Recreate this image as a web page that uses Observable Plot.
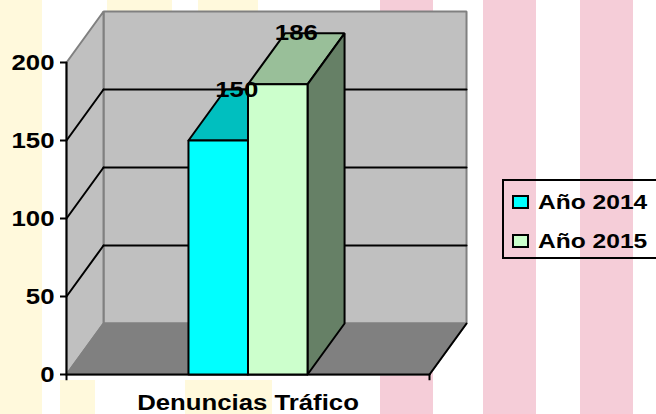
<!DOCTYPE html>
<html>
<head>
<meta charset="utf-8">
<script src="https://cdn.jsdelivr.net/npm/d3@7"></script>
<script src="https://cdn.jsdelivr.net/npm/@observablehq/plot@0.6"></script>
<style>
  html, body { margin: 0; padding: 0; overflow: hidden; background: #fff; }
  #wrap { position: relative; width: 656px; height: 414px; overflow: hidden; font-family: "Liberation Sans", Arial, sans-serif; }
  .bg { position: absolute; }
  .pink { background: #f5cdd8; top: 0; height: 414px; }
  .yel { background: #fff9dc; }
  #chart { position: absolute; left: 0; top: 0; }
  #legend { position: absolute; left: 502px; top: 179px; width: 170px; height: 76px; border: 2px solid #000; box-sizing: content-box; }
  .item { position: absolute; left: 8px; display: flex; align-items: center; font-weight: bold; font-size: 21px; color: #000; white-space: nowrap; }
  .sw { width: 13px; height: 10px; border: 2px solid #000; margin-right: 9px; flex: none; }
  .lbl { display: inline-block; transform: scaleX(1.17); transform-origin: left center; }
</style>
</head>
<body>
<div id="wrap">
  <div class="bg yel" style="left:0;top:0;width:42px;height:414px"></div>
  <div class="bg yel" style="left:107px;top:0;width:65px;height:14px"></div>
  <div class="bg yel" style="left:198px;top:0;width:60px;height:14px"></div>
  <div class="bg yel" style="left:60px;top:380px;width:35px;height:34px"></div>
  <div class="bg yel" style="left:185px;top:380px;width:87px;height:34px"></div>
  <div class="bg pink" style="left:380px;width:53px"></div>
  <div class="bg pink" style="left:483px;width:53px"></div>
  <div class="bg pink" style="left:580px;width:53px"></div>
  <div id="chart"></div>
  <div id="legend"></div>
</div>
<script>
// ---- data ----
const category = "Denuncias Tráfico";
const series = ["Año 2014", "Año 2015"];
const values = [150, 186];
const frontColors = ["#00ffff", "#ccffcc"];
const topColors = ["#00bfbf", "#99bf99"];
const sideColors = ["#008080", "#668066"];
const yTicks = [0, 50, 100, 150, 200];

// ---- layout constants (3D depth in scale units) ----
const yMax = 200;
const depthX = 0.102;   // horizontal depth offset (fraction of floor width)
const depthY = 32.7;    // vertical depth offset (value units)
const barWidth = 0.164;
const stretch = 1.17;   // horizontal text stretch of the original

const marks = [];
function poly(points, fill, stroke, sw = 2) {
  const pts = points.map(([x, y]) => ({x, y}));
  pts.push({...pts[0]});
  return Plot.line(pts, {x: "x", y: "y", fill, stroke, strokeWidth: sw, strokeLinejoin: "miter", curve: "linear"});
}
function seg(a, b, stroke, sw = 2) {
  return Plot.line([{x: a[0], y: a[1]}, {x: b[0], y: b[1]}], {x: "x", y: "y", stroke, strokeWidth: sw});
}

// walls
marks.push(poly([[depthX, depthY], [1 + depthX, depthY], [1 + depthX, yMax + depthY], [depthX, yMax + depthY]], "#c0c0c0", "#808080"));
marks.push(poly([[0, 0], [depthX, depthY], [depthX, yMax + depthY], [0, yMax]], "#c0c0c0", "#808080"));
marks.push(poly([[0, 0], [1, 0], [1 + depthX, depthY], [depthX, depthY]], "#808080", "#808080"));

// gridlines
for (const v of yTicks.filter(v => v > 0 && v < yMax)) {
  marks.push(seg([0, v], [depthX, v + depthY], "#000", 2));
  marks.push(seg([depthX, v + depthY], [1 + depthX, v + depthY], "#000", 2));
}

// axes lines
marks.push(seg([0, 0], [0, yMax], "#000", 2));
marks.push(seg([0, 0], [1, 0], "#000", 2));
marks.push(seg([1, 0], [1 + depthX, depthY], "#000", 2));
marks.push(Plot.ruleX([0, 1], {y1: 0, y2: -4, stroke: "#000", strokeWidth: 2}));

// bars
const n = values.length;
values.forEach((v, i) => {
  const x0 = 0.5 + (i - n / 2) * barWidth;
  const x1 = x0 + barWidth;
  marks.push(poly([[x0, v], [x1, v], [x1 + depthX, v + depthY], [x0 + depthX, v + depthY]], topColors[i], "#000"));
  marks.push(poly([[x1, 0], [x1 + depthX, depthY], [x1 + depthX, v + depthY], [x1, v]], sideColors[i], "#000"));
  marks.push(poly([[x0, 0], [x1, 0], [x1, v], [x0, v]], frontColors[i], "#000"));
});

// value labels
marks.push(Plot.text(values.map((v, i) => ({v, i})), {
  x: d => 0.5 + (d.i - n / 2 + 0.5) * barWidth + depthX / 2,
  y: d => d.v + depthY,
  text: d => String(d.v),
  fontSize: 22, fontWeight: "bold", fill: "#000", textAnchor: "middle", lineAnchor: "middle"
}));

// y axis
marks.push(Plot.axisY({ticks: yTicks, tickSize: 6, tickPadding: 6, fontSize: 22, fontWeight: "bold", strokeWidth: 2, color: "#000", label: null}));

// category label
marks.push(Plot.text([category], {x: () => 0.5, frameAnchor: "bottom", dy: 28, text: d => d, fontSize: 22, fontWeight: "bold", fill: "#000", lineAnchor: "middle"}));

const chart = Plot.plot({
  width: 656, height: 414,
  marginLeft: 66, marginRight: 227, marginTop: 62, marginBottom: 40,
  x: {domain: [0, 1], axis: null},
  y: {domain: [0, yMax], axis: null},
  style: {background: "transparent", overflow: "visible", fontFamily: "'Liberation Sans', Arial, sans-serif"},
  marks
});
document.getElementById("chart").appendChild(chart);

// stretch text horizontally (the original is horizontally stretched)
chart.querySelectorAll("text").forEach(t => {
  const len = t.getComputedTextLength();
  if (len > 0) {
    t.setAttribute("textLength", (len * stretch).toFixed(2));
    t.setAttribute("lengthAdjust", "spacingAndGlyphs");
  }
});

// legend
const lg = document.getElementById("legend");
series.forEach((s, i) => {
  const it = document.createElement("div");
  it.className = "item";
  it.style.top = (i === 0 ? 9 : 48) + "px";
  const sw = document.createElement("div");
  sw.className = "sw";
  sw.style.background = frontColors[i];
  it.appendChild(sw);
  const lb = document.createElement("span");
  lb.className = "lbl";
  lb.textContent = s;
  it.appendChild(lb);
  lg.appendChild(it);
});
</script>
</body>
</html>
